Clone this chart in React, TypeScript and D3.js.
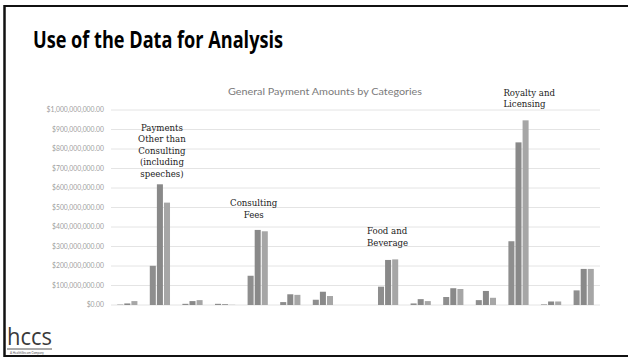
import React from 'react';
import * as d3 from 'd3';

// Open Payments "nature of payment" categories, alphabetical as in the source chart
const categories = [
  'Charitable Contribution',
  'Services Other than Consulting',
  'Faculty/Speaker Non-accredited CME',
  'Faculty Accredited CME',
  'Consulting Fee',
  'Ownership or Investment Interest',
  'Education',
  'Entertainment',
  'Food and Beverage',
  'Gift',
  'Grant',
  'Honoraria',
  'Royalty or License',
  'Space Rental',
  'Travel and Lodging',
];

const seriesNames = ['2013', '2014', '2015'];

// values in millions of dollars
const series2013 = [2, 201, 6, 6, 150, 15, 27, 0, 94, 8, 41, 25, 327, 3, 75];
const series2014 = [8, 619, 20, 4, 385, 55, 68, 0, 231, 30, 86, 72, 834, 18, 185];
const series2015 = [20, 525, 25, 1, 378, 52, 46, 0, 234, 20, 82, 37, 947, 18, 185];

const yTicks = [0, 100, 200, 300, 400, 500, 600, 700, 800, 900, 1000];

const seriesColors = ['#8e8e8e', '#898989', '#a6a6a6'];

const W = 628;
const H = 358;

const App: React.FC = () => {
  const plot = { left: 111, right: 600, top: 110, bottom: 305 };

  const x = d3.scaleBand<string>()
    .domain(categories)
    .range([plot.left, plot.right])
    .paddingInner(0.38)
    .paddingOuter(0.19);

  const xInner = d3.scaleBand<string>()
    .domain(seriesNames)
    .range([0, x.bandwidth()])
    .paddingInner(0.15);

  const y = d3.scaleLinear()
    .domain([0, 1000])
    .range([plot.bottom, plot.top]);

  const fmt = d3.format('$,.2f');
  const allSeries = [series2013, series2014, series2015];

  const annoFont = "'DejaVu Serif', serif";
  const cx = (c: string) => (x(c) ?? 0) + x.bandwidth() / 2;

  return (
    <svg width={W} height={H} style={{ position: 'absolute', left: 0, top: 0, background: '#fff' }}>
      {/* slide frame */}
      <line x1={4.5} y1={5} x2={4.5} y2={357} stroke='#111' strokeWidth={2.5} />
      <line x1={4} y1={6} x2={W} y2={6} stroke='#111' strokeWidth={2} />
      <line x1={4} y1={356} x2={W} y2={356} stroke='#111' strokeWidth={2} />

      <text x={33} y={48} fontFamily="'Open Sans', sans-serif" fontWeight='bold' fontSize={22.5}
        textLength={250} lengthAdjust='spacingAndGlyphs' fill='#000'>
        Use of the Data for Analysis
      </text>

      <text x={325} y={95} textAnchor='middle' fontFamily='Lato, sans-serif' fontSize={9.5}
        textLength={194} lengthAdjust='spacingAndGlyphs' fill='#7a7a7a'>
        General Payment Amounts by Categories
      </text>

      {/* gridlines + y labels */}
      {yTicks.map(t => (
        <g key={t}>
          <line x1={plot.left} x2={plot.right} y1={y(t)} y2={y(t)} stroke='#e4e4e4' strokeWidth={1} />
          <text x={104} y={y(t)} dy='0.35em' textAnchor='end' fontFamily='Lato, sans-serif'
            fontSize={6.8} fill='#a0a0a0'>
            {fmt(t * 1e6)}
          </text>
        </g>
      ))}

      {/* bars */}
      {allSeries.map((vals, si) => (
        <g key={seriesNames[si]} fill={seriesColors[si]}>
          {vals.map((v, i) => (
            <rect key={categories[i]}
              x={(x(categories[i]) ?? 0) + (xInner(seriesNames[si]) ?? 0)}
              y={y(v)}
              width={xInner.bandwidth()}
              height={plot.bottom - y(v)} />
          ))}
        </g>
      ))}

      {/* annotations */}
      <g fontFamily={annoFont} fontSize={8.6} fill='#222'>
        <text textAnchor='middle'>
          {['Payments', 'Other than', 'Consulting', '(including', 'speeches)'].map((s, i) => (
            <tspan key={s} x={cx(categories[1]) + 2} y={130.5 + i * 11.6}>{s}</tspan>
          ))}
        </text>
        <text textAnchor='middle'>
          {['Consulting', 'Fees'].map((s, i) => (
            <tspan key={s} x={cx(categories[4]) - 4} y={206 + i * 11.8}>{s}</tspan>
          ))}
        </text>
        <text>
          {['Food and', 'Beverage'].map((s, i) => (
            <tspan key={s} x={(x(categories[8]) ?? 0) - 11} y={234 + i * 12.2}>{s}</tspan>
          ))}
        </text>
        <text>
          {['Royalty and', 'Licensing'].map((s, i) => (
            <tspan key={s} x={(x(categories[12]) ?? 0) - 5} y={95.5 + i * 11.4}>{s}</tspan>
          ))}
        </text>
      </g>

      {/* hccs logo */}
      <text x={7} y={345} fontFamily="'Open Sans', sans-serif" fontSize={24} fill='#3a3a3a'
        textLength={45} lengthAdjust='spacingAndGlyphs'>hccs</text>
      <line x1={7} x2={52} y1={349} y2={349} stroke='#555' strokeWidth={1} />
      <text x={10} y={353.5} fontFamily='Lato, sans-serif' fontSize={3} fill='#555'>
        A HealthStream Company
      </text>
    </svg>
  );
};

export default App;
